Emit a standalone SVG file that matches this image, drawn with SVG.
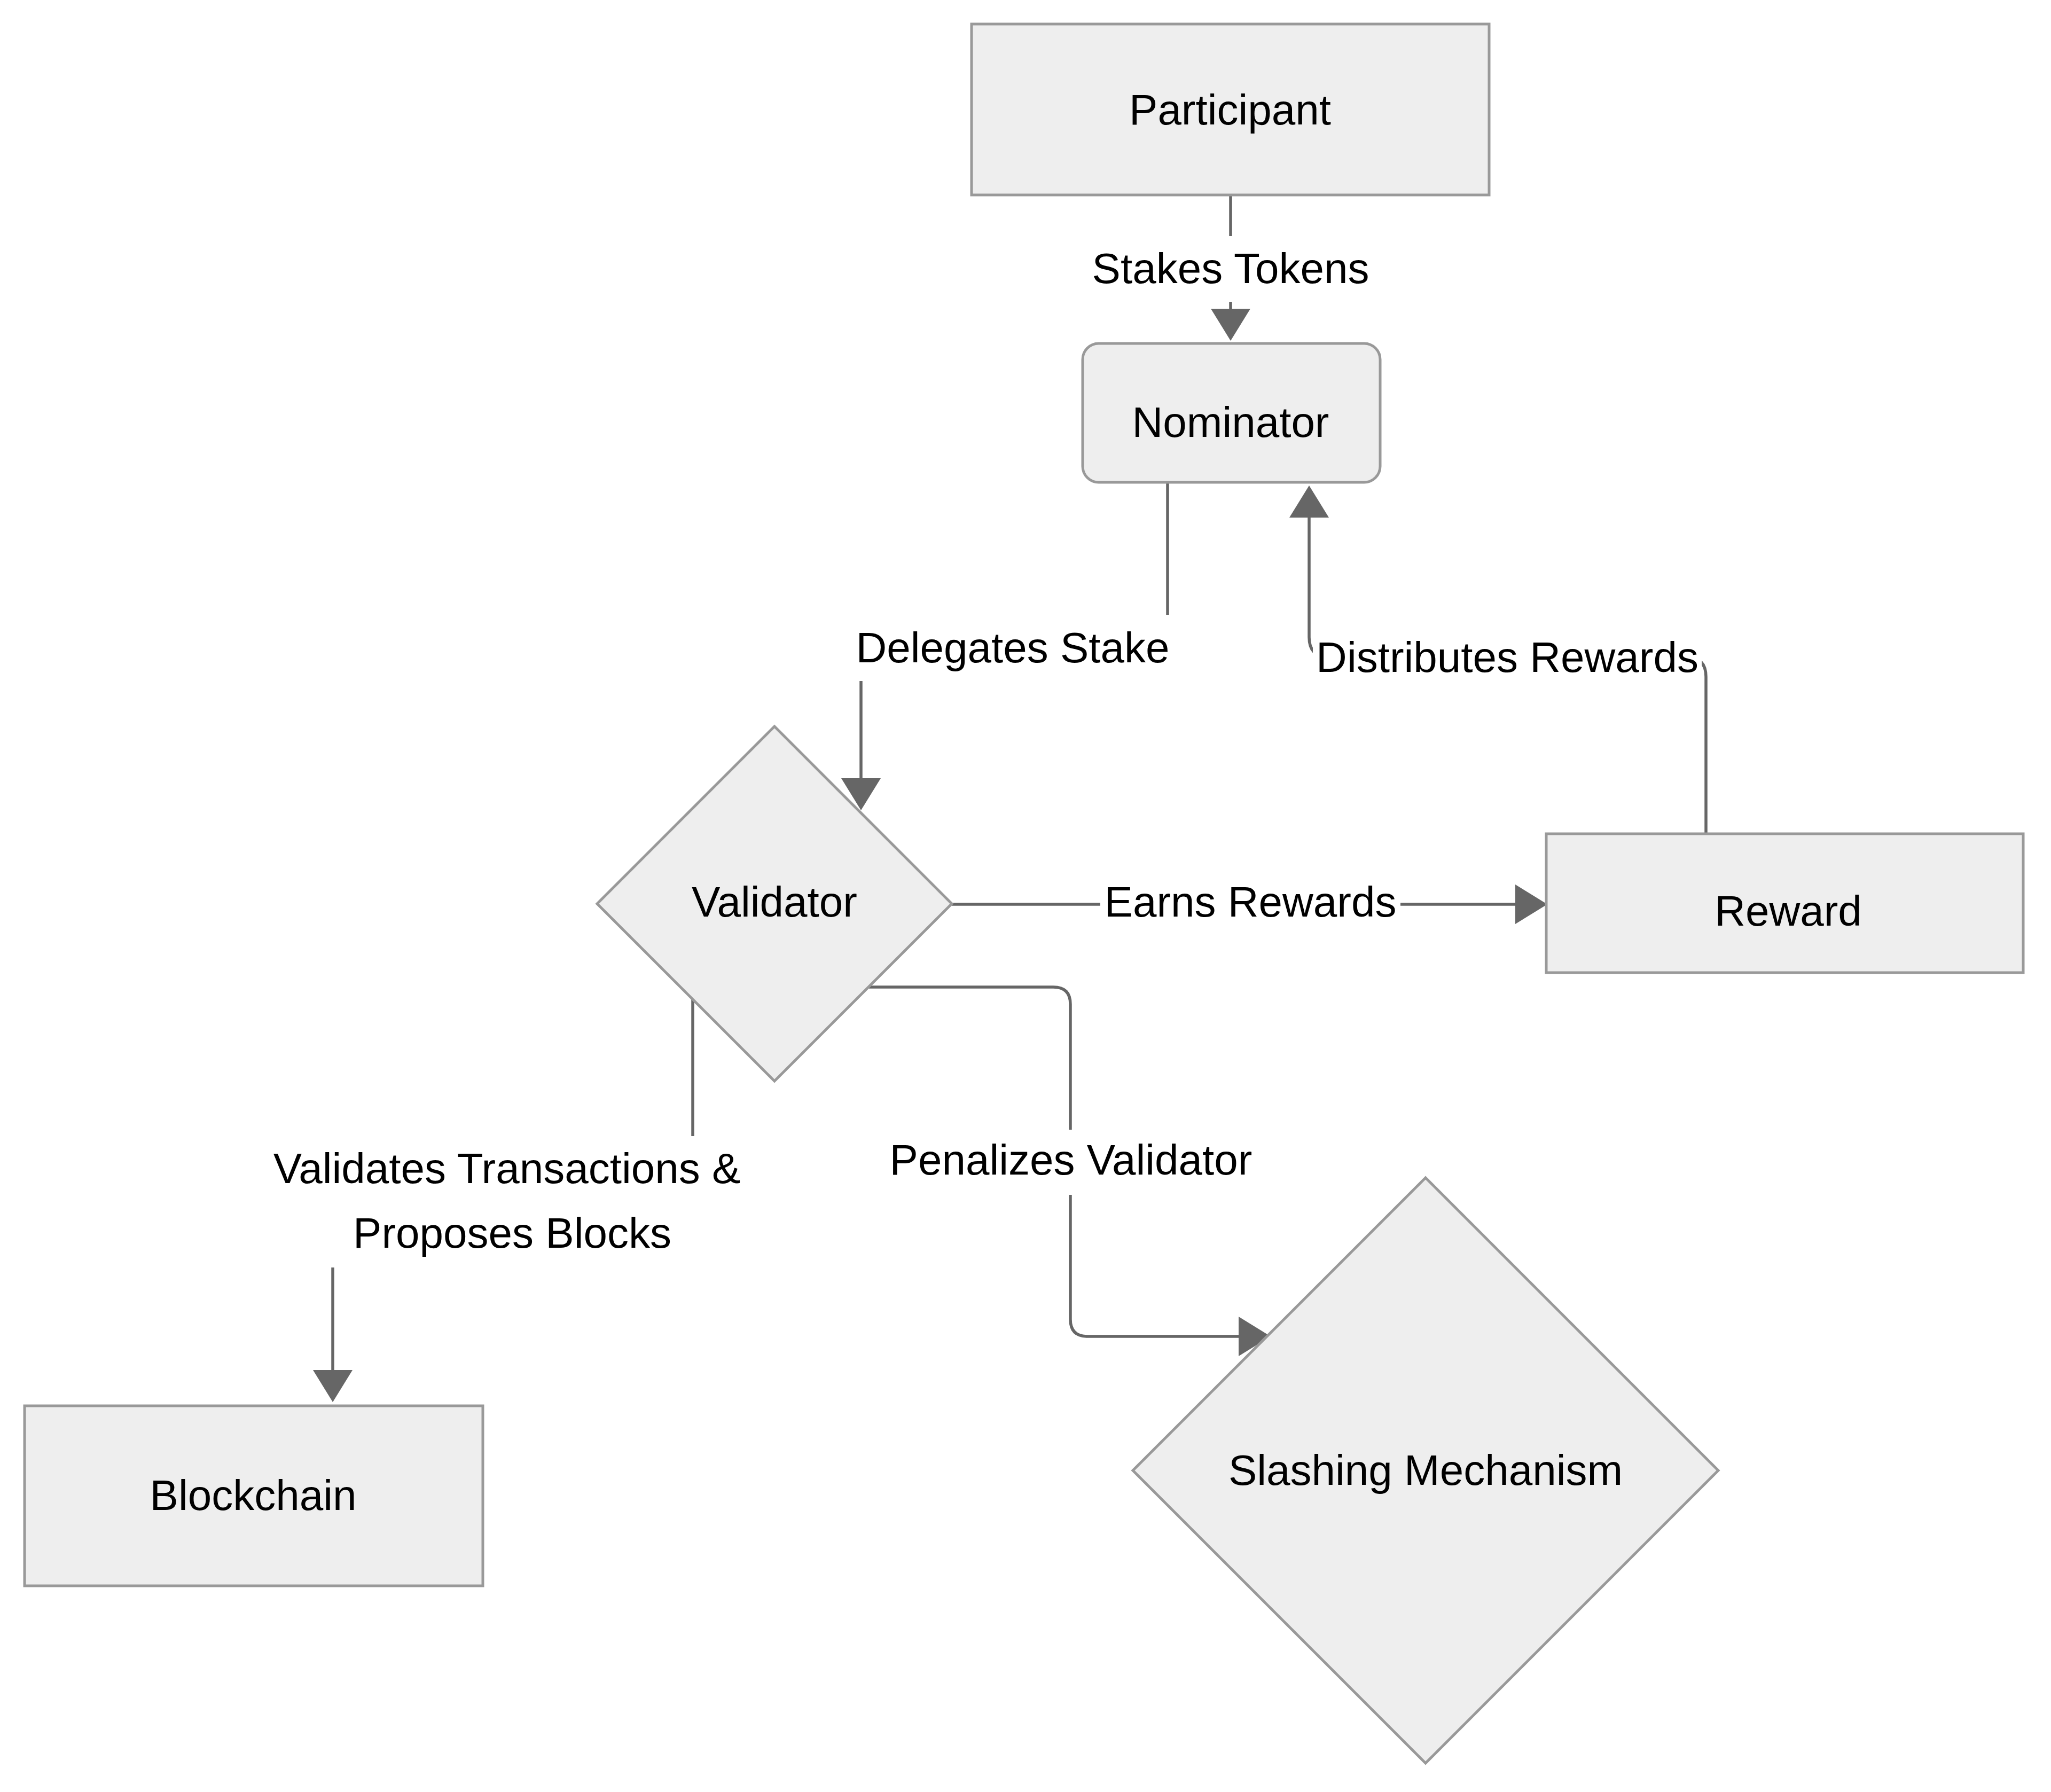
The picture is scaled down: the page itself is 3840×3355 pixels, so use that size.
<svg xmlns="http://www.w3.org/2000/svg" width="3840" height="3355" viewBox="0 0 3840 3355">
<style>
.node{fill:#eeeeee;stroke:#999999;stroke-width:5}
.edge{fill:none;stroke:#666666;stroke-width:5.5}
.lbl{font-family:"Liberation Sans",Arial,sans-serif;font-size:80px;fill:#000000;text-anchor:middle}
.lblbg{fill:#ffffff;stroke:none}
</style>
<defs>
<marker id="arrow" markerUnits="userSpaceOnUse" markerWidth="62" markerHeight="74" refX="1" refY="37" orient="auto">
<path d="M0,0 L60,37 L0,74 z" fill="#666666"/>
</marker>
</defs>
<rect x="0" y="0" width="3840" height="3355" fill="#ffffff"/>
<g id="connectors">
<g id="e-stakes">
<path class="edge" d="M2304,365 L2304,579" marker-end="url(#arrow)"/>
<rect class="lblbg" x="2040" y="442" width="528" height="123"/>
<text class="lbl" x="2304" y="530">Stakes Tokens</text>
</g>
<g id="e-delegates">
<path class="edge" d="M2186,904 L2186,1178 Q2186,1213 2151,1213 L1647,1213 Q1612,1213 1612,1248 L1612,1458" marker-end="url(#arrow)"/>
<rect class="lblbg" x="1596" y="1151" width="604" height="124"/>
<text class="lbl" x="1896" y="1240">Delegates Stake</text>
</g>
<g id="e-distributes">
<path class="edge" d="M3194,1561 L3194,1267 Q3194,1230 3157,1230 L2488,1230 Q2451,1230 2451,1193 L2451,968" marker-end="url(#arrow)"/>
<rect class="lblbg" x="2458" y="1188" width="728" height="84"/>
<text class="lbl" x="2822" y="1258">Distributes Rewards</text>
</g>
<g id="e-earns">
<path class="edge" d="M1782,1693 L2838,1693" marker-end="url(#arrow)"/>
<rect class="lblbg" x="2060" y="1650" width="562" height="86"/>
<text class="lbl" x="2341" y="1716">Earns Rewards</text>
</g>
<g id="e-validates">
<path class="edge" d="M1297,1871 L1297,2215 Q1297,2250 1262,2250 L658,2250 Q623,2250 623,2285 L623,2566" marker-end="url(#arrow)"/>
<rect class="lblbg" x="500" y="2127" width="900" height="246"/>
<text class="lbl" x="949" y="2215">Validates Transactions &amp;</text>
<text class="lbl" x="959" y="2336">Proposes Blocks</text>
</g>
<g id="e-penalizes">
<path class="edge" d="M1627,1848 L1972,1848 Q2004,1848 2004,1880 L2004,2470 Q2004,2502 2036,2502 L2320,2502" marker-end="url(#arrow)"/>
<rect class="lblbg" x="1658" y="2115" width="694" height="122"/>
<text class="lbl" x="2005" y="2199">Penalizes Validator</text>
</g>
</g>
<g id="participant">
<rect class="node" x="1819" y="45" width="969" height="320"/>
<text class="lbl" x="2303" y="233">Participant</text>
</g>
<g id="nominator">
<rect class="node" x="2027" y="643" width="557" height="260" rx="30" ry="30"/>
<text class="lbl" x="2304" y="818">Nominator</text>
</g>
<g id="validator">
<polygon class="node" points="1450,1360 1782,1692 1450,2024 1118,1692"/>
<text class="lbl" x="1450" y="1716">Validator</text>
</g>
<g id="reward">
<rect class="node" x="2895" y="1561" width="893" height="260"/>
<text class="lbl" x="3348" y="1733">Reward</text>
</g>
<g id="blockchain">
<rect class="node" x="46" y="2632" width="858" height="337"/>
<text class="lbl" x="474" y="2827">Blockchain</text>
</g>
<g id="slashing">
<polygon class="node" points="2669,2205 3217,2753 2669,3301 2121,2753"/>
<text class="lbl" x="2669" y="2780">Slashing Mechanism</text>
</g>
</svg>
